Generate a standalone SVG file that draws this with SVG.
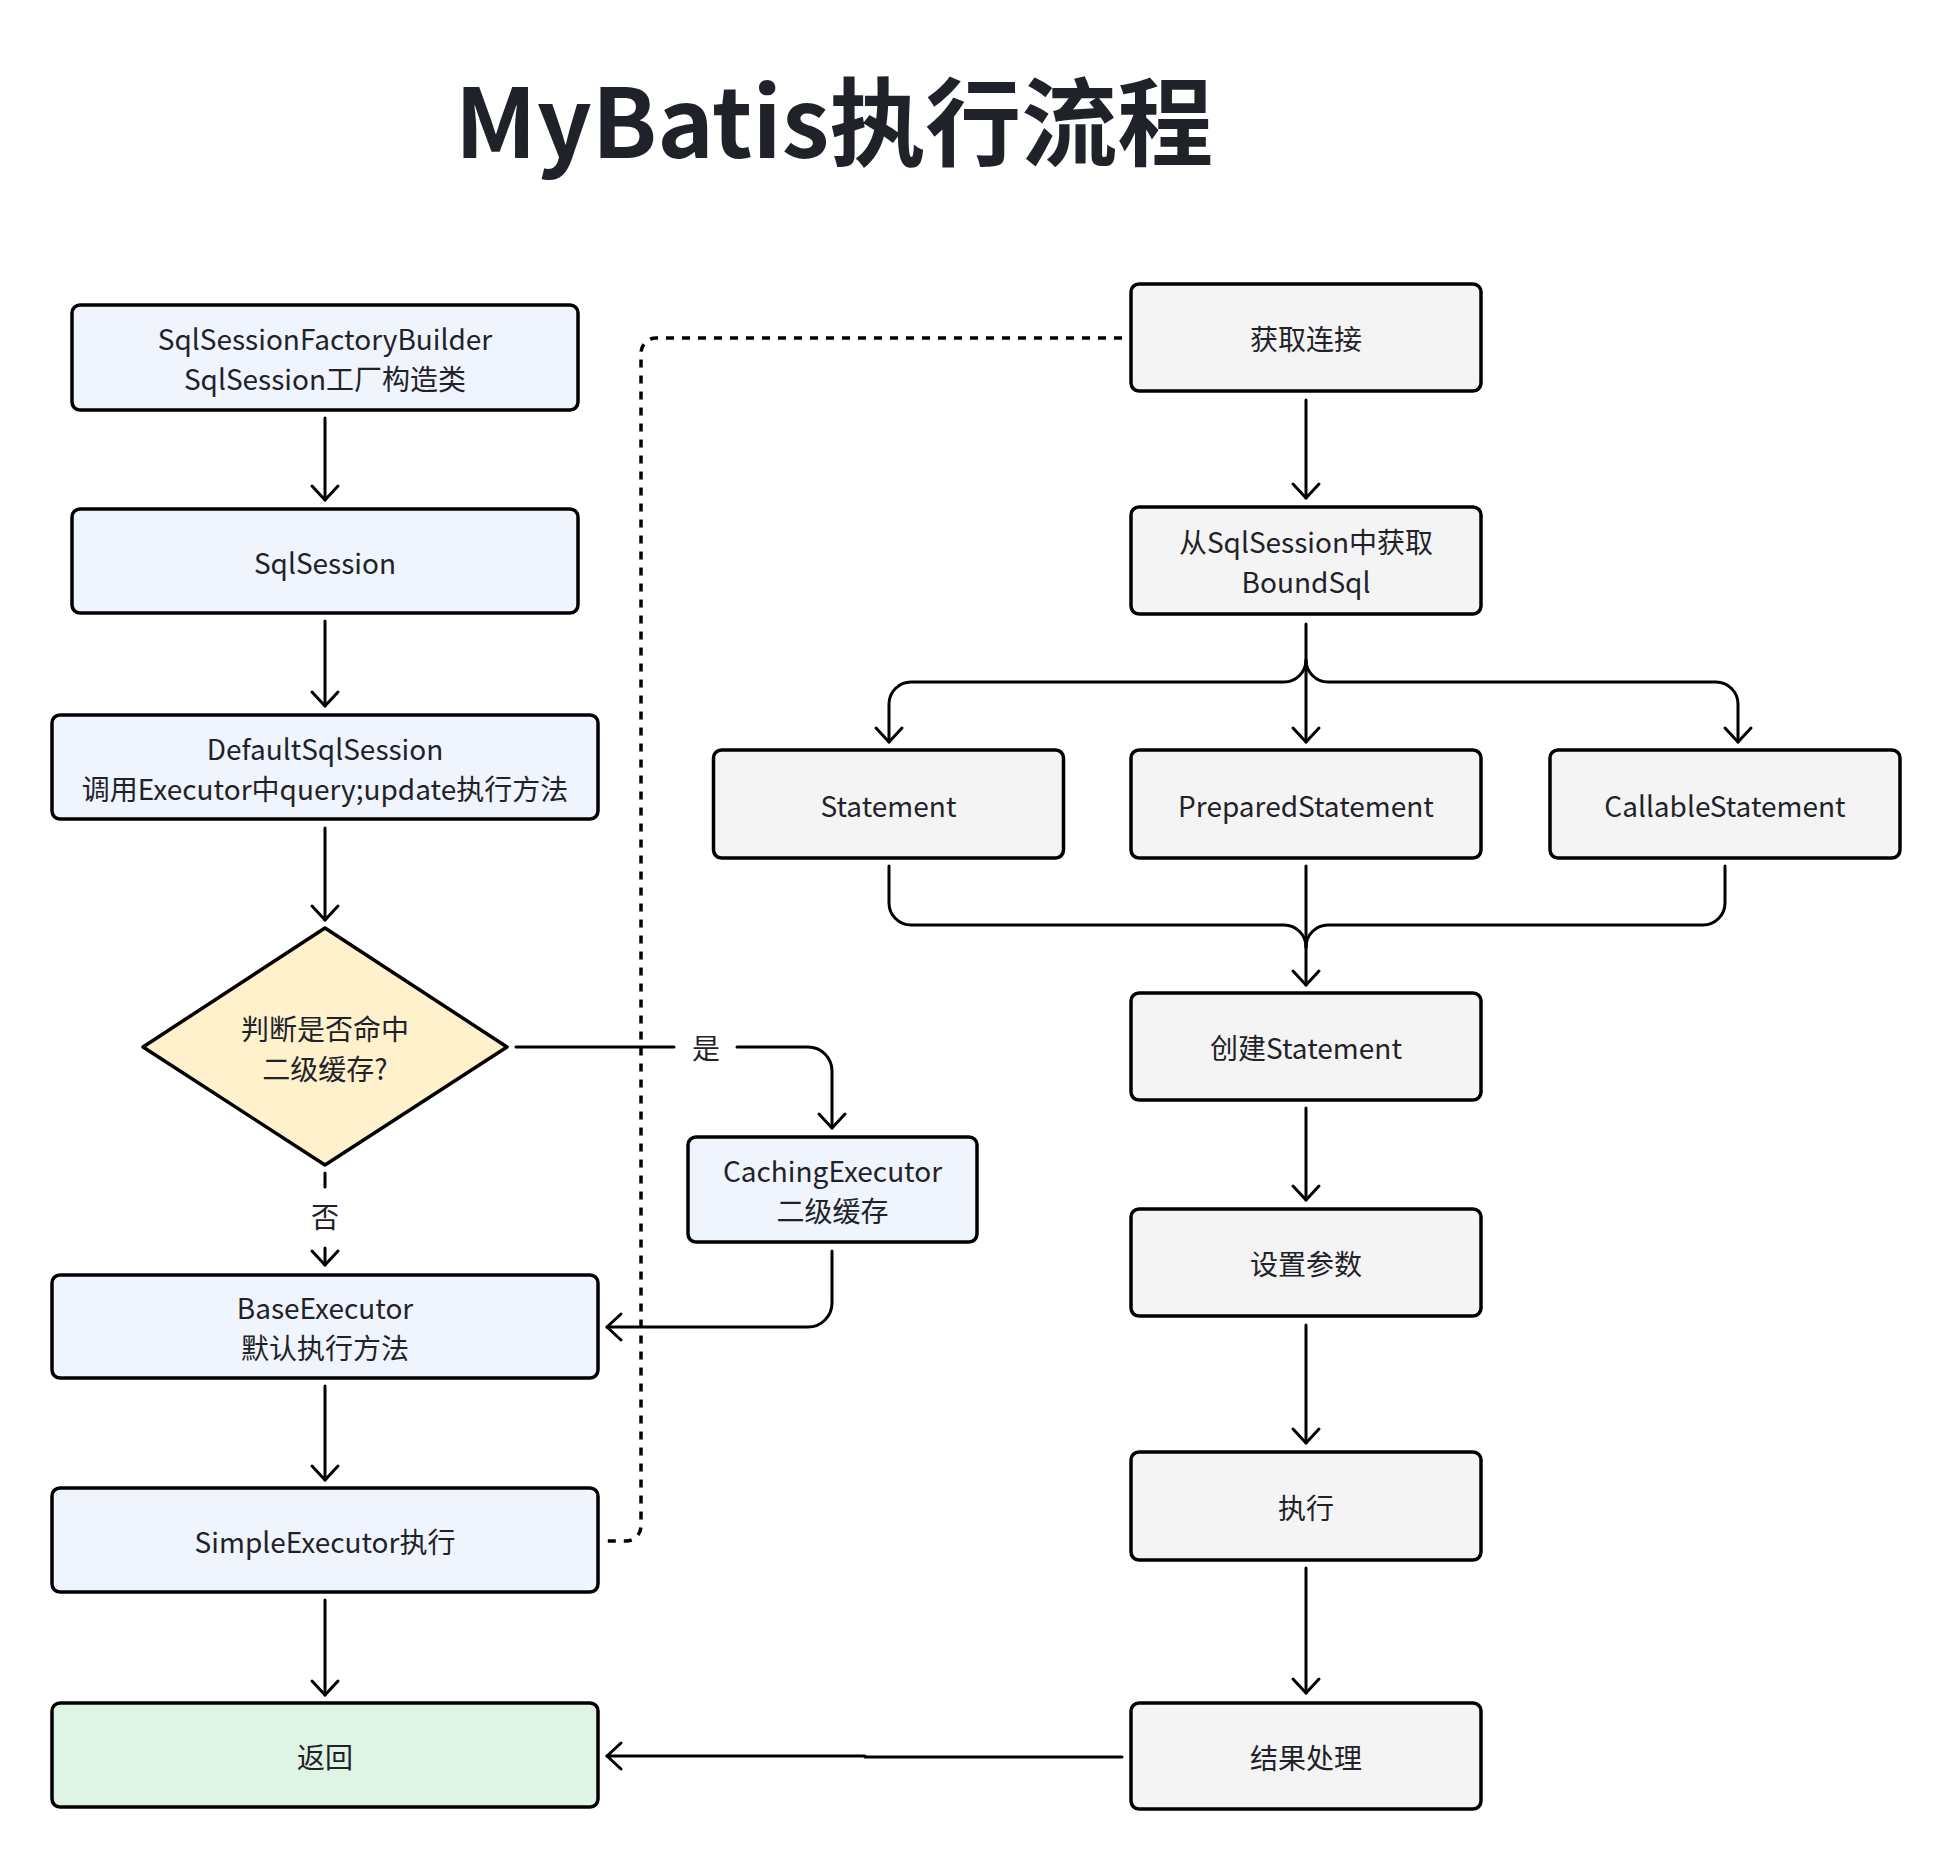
<svg xmlns="http://www.w3.org/2000/svg" width="1948" height="1860" viewBox="0 0 1948 1860">
<defs>
<style>
.t{font-family:"Noto Sans CJK SC","Noto Sans",sans-serif;font-size:28px;fill:#1f2329;text-anchor:middle}
.title{font-family:"Noto Sans CJK SC","Noto Sans",sans-serif;font-size:96px;font-weight:700;fill:#1f2329;text-anchor:middle}
.b{stroke:#000;stroke-width:3.5}
.blue{fill:#eff4fd}
.gray{fill:#f4f4f4}
.green{fill:#dff4e5}
.yellow{fill:#fef1cc}
.c{fill:none;stroke:#000;stroke-width:3;stroke-linecap:round;stroke-linejoin:round}
.d{fill:none;stroke:#000;stroke-width:3.5;stroke-dasharray:8 8}
</style>
<marker id="arr" markerUnits="userSpaceOnUse" markerWidth="40" markerHeight="40" viewBox="-20 -20 40 40" refX="0" refY="0" orient="auto">
<path d="M-14,-13 L0,0 L-14,13" fill="none" stroke="#000" stroke-width="3" stroke-linecap="round" stroke-linejoin="round"/>
</marker>
</defs>
<rect width="1948" height="1860" fill="#fff"/>
<text class="title" x="834" y="158">MyBatis执行流程</text>

<g id="connectors">
<path class="c" d="M325,418 V500" marker-end="url(#arr)"/>
<path class="c" d="M325,621 V706" marker-end="url(#arr)"/>
<path class="c" d="M325,828 V920" marker-end="url(#arr)"/>
<path class="c" d="M516,1047 H674"/>
<path class="c" d="M737,1047 H808 A24,24 0 0 1 832,1071 V1128" marker-end="url(#arr)"/>
<text class="t" x="706" y="1059">是</text>
<path class="c" d="M325,1173 V1187"/>
<path class="c" d="M325,1248 V1265" marker-end="url(#arr)"/>
<text class="t" x="325" y="1228">否</text>
<path class="c" d="M832,1251 V1303 A24,24 0 0 1 808,1327 H607" marker-end="url(#arr)"/>
<path class="c" d="M325,1386 V1480" marker-end="url(#arr)"/>
<path class="c" d="M325,1600 V1695" marker-end="url(#arr)"/>
<path class="d" d="M1122,338 H656 A15,15 0 0 0 641,353 V1526 A15,15 0 0 1 626,1541 H607"/>
<path class="c" d="M1306,400 V498" marker-end="url(#arr)"/>
<path class="c" d="M1306,624 V742" marker-end="url(#arr)"/>
<path class="c" d="M1306,660 A22,22 0 0 1 1284,682 H911 A22,22 0 0 0 889,704 V742" marker-end="url(#arr)"/>
<path class="c" d="M1306,660 A22,22 0 0 0 1328,682 H1716 A22,22 0 0 1 1738,704 V742" marker-end="url(#arr)"/>
<path class="c" d="M889,866 V903 A22,22 0 0 0 911,925 H1284 A22,22 0 0 1 1306,947"/>
<path class="c" d="M1725,866 V903 A22,22 0 0 1 1703,925 H1328 A22,22 0 0 0 1306,947"/>
<path class="c" d="M1306,866 V985" marker-end="url(#arr)"/>
<path class="c" d="M1306,1108 V1200" marker-end="url(#arr)"/>
<path class="c" d="M1306,1325 V1443" marker-end="url(#arr)"/>
<path class="c" d="M1306,1568 V1693" marker-end="url(#arr)"/>
<path class="c" d="M1122,1757 H865 V1756 H607" marker-end="url(#arr)"/>
</g>

<g id="n1"><rect class="b blue" x="72" y="305" width="506" height="105" rx="8"/>
<text class="t" x="325" y="350">SqlSessionFactoryBuilder</text>
<text class="t" x="325" y="390">SqlSession工厂构造类</text></g>
<g id="n2"><rect class="b blue" x="72" y="509" width="506" height="104" rx="8"/>
<text class="t" x="325" y="573.5">SqlSession</text></g>
<g id="n3"><rect class="b blue" x="52" y="715" width="546" height="104" rx="8"/>
<text class="t" x="325" y="759.5">DefaultSqlSession</text>
<text class="t" x="325" y="799.5">调用Executor中query;update执行方法</text></g>
<g id="n4"><polygon class="b yellow" points="325,928 507,1047 325,1165 143,1047" stroke-linejoin="round"/>
<text class="t" x="325" y="1039.5">判断是否命中</text>
<text class="t" x="325" y="1079.5">二级缓存?</text></g>
<g id="n5"><rect class="b blue" x="688" y="1137" width="289" height="105" rx="8"/>
<text class="t" x="832.5" y="1182">CachingExecutor</text>
<text class="t" x="832.5" y="1222">二级缓存</text></g>
<g id="n6"><rect class="b blue" x="52" y="1275" width="546" height="103" rx="8"/>
<text class="t" x="325" y="1319">BaseExecutor</text>
<text class="t" x="325" y="1359">默认执行方法</text></g>
<g id="n7"><rect class="b blue" x="52" y="1488" width="546" height="104" rx="8"/>
<text class="t" x="325" y="1552.5">SimpleExecutor执行</text></g>
<g id="n8"><rect class="b green" x="52" y="1703" width="546" height="104" rx="8"/>
<text class="t" x="325" y="1767.5">返回</text></g>

<g id="r1"><rect class="b gray" x="1131" y="284" width="350" height="107" rx="8"/>
<text class="t" x="1306" y="350">获取连接</text></g>
<g id="r2"><rect class="b gray" x="1131" y="507" width="350" height="107" rx="8"/>
<text class="t" x="1306" y="553">从SqlSession中获取</text>
<text class="t" x="1306" y="593">BoundSql</text></g>
<g id="r3"><rect class="b gray" x="713.5" y="750" width="350" height="108" rx="8"/>
<text class="t" x="888.5" y="816.5">Statement</text></g>
<g id="r4"><rect class="b gray" x="1131" y="750" width="350" height="108" rx="8"/>
<text class="t" x="1306" y="816.5">PreparedStatement</text></g>
<g id="r5"><rect class="b gray" x="1550" y="750" width="350" height="108" rx="8"/>
<text class="t" x="1725" y="816.5">CallableStatement</text></g>
<g id="r6"><rect class="b gray" x="1131" y="993" width="350" height="107" rx="8"/>
<text class="t" x="1306" y="1059">创建Statement</text></g>
<g id="r7"><rect class="b gray" x="1131" y="1209" width="350" height="107" rx="8"/>
<text class="t" x="1306" y="1275">设置参数</text></g>
<g id="r8"><rect class="b gray" x="1131" y="1452" width="350" height="108" rx="8"/>
<text class="t" x="1306" y="1518.5">执行</text></g>
<g id="r9"><rect class="b gray" x="1131" y="1703" width="350" height="106" rx="8"/>
<text class="t" x="1306" y="1768.5">结果处理</text></g>
</svg>
